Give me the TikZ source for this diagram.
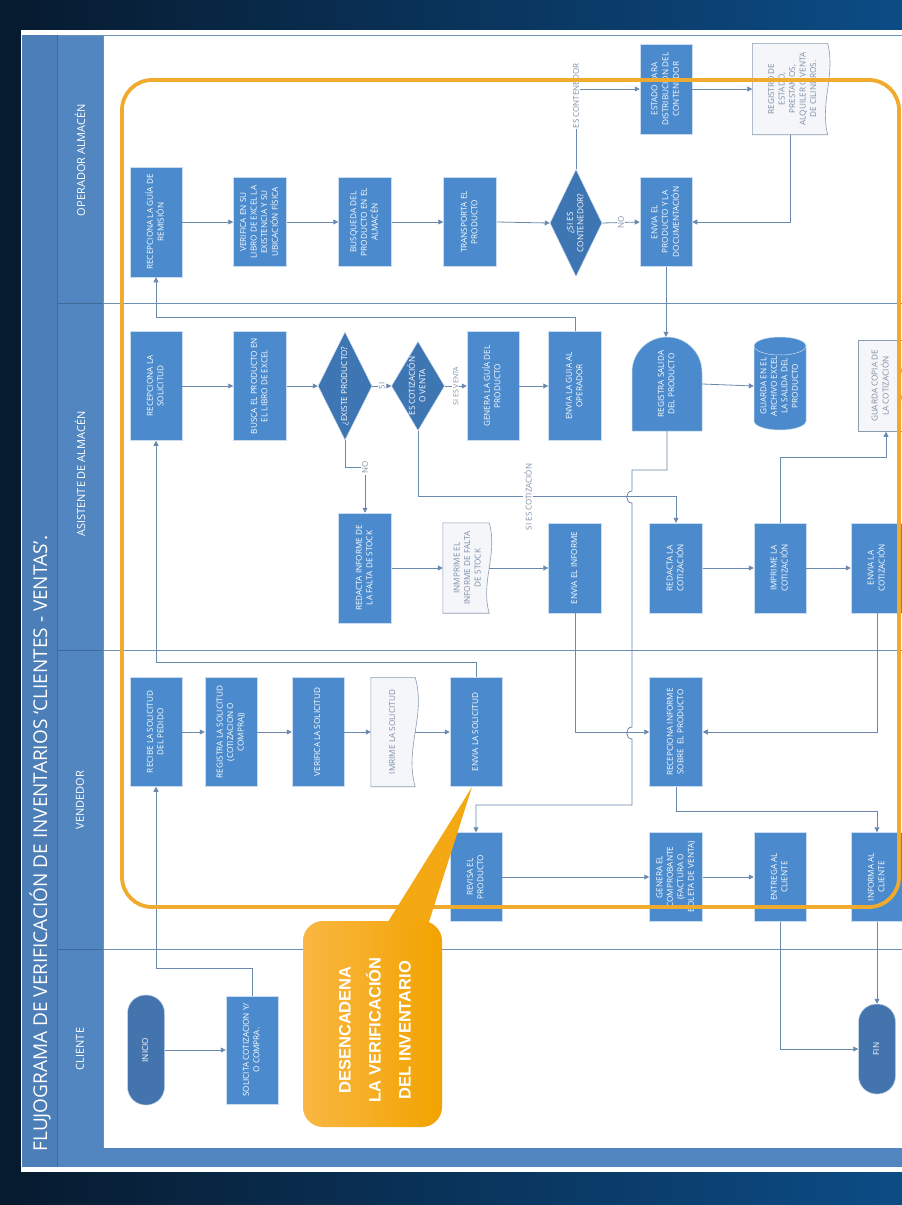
\documentclass[tikz,border=0pt]{standalone}
\usepackage{graphicx}
\usepackage{fontspec}
\setmainfont{Open Sans}
\newfontfamily\calloutfont{Liberation Sans}
\usetikzlibrary{arrows.meta,shapes.geometric,calc}

\definecolor{bgdark}{HTML}{071A2E}
\definecolor{bgblue}{HTML}{0C4C86}
\definecolor{stripblue}{HTML}{4C7EB7}
\definecolor{headblue}{HTML}{5186C0}
\definecolor{headline}{HTML}{3F6A9A}
\definecolor{laneline}{HTML}{6E8FB6}
\definecolor{boxblue}{HTML}{4B8ACD}
\definecolor{decblue}{HTML}{3E75B3}
\definecolor{termblue}{HTML}{4474AE}
\definecolor{flowline}{HTML}{6B89AE}
\definecolor{docfill}{HTML}{F4F6F9}
\definecolor{docdraw}{HTML}{8C9CB1}
\definecolor{doctext}{HTML}{7D8EA6}
\definecolor{frameorange}{HTML}{F0AA2E}
\definecolor{callA}{HTML}{F9B743}
\definecolor{callB}{HTML}{F2A300}

% rotated, centred multi-line text
\newcommand\vtext[1]{\rotatebox{90}{\begin{tabular}{@{}c@{}}#1\end{tabular}}}

\tikzset{
  boxtext/.style={text=white, font=\fontsize{8.2}{10.5}\selectfont},
  proc/.style={rectangle, fill=boxblue, draw=white!70!boxblue, line width=0.5pt, inner sep=0pt, boxtext},
  dec/.style={diamond, fill=decblue, draw=white!70!decblue, line width=0.5pt, inner sep=0pt},
  term/.style={rectangle, rounded corners=18pt, fill=termblue, draw=white!70!termblue, line width=0.5pt, inner sep=0pt, boxtext},
  plain/.style={rectangle, inner sep=0pt},
  doctxt/.style={text=doctext, font=\fontsize{8.2}{10.5}\selectfont},
  docline/.style={fill=docfill, draw=docdraw, line width=0.6pt},
  flow/.style={draw=flowline, line width=0.8pt, -{Triangle[length=5pt,width=5pt]}},
  lbl/.style={fill=white, inner sep=1pt, text=doctext, font=\fontsize{8}{9}\selectfont, rotate=90},
  lanetitle/.style={text=white, font=\fontsize{11}{13}\selectfont, rotate=90},
}

% document symbol with a wavy right edge around node #1
\newcommand\docoutline[2]{%
  \path[docline] (#1.north west) -- (#1.north east)
    .. controls ($(#1.north east)!0.35!(#1.south east)+(#2,0)$) and ($(#1.north east)!0.65!(#1.south east)+(-#2,0)$) .. (#1.south east)
    -- (#1.south west) -- cycle;}

\begin{document}
\begin{tikzpicture}[x=1pt,y=-1pt]
\useasboundingbox (0,0) rectangle (902,1205);
\clip (0,0) rectangle (902,1205);

% backdrop and sheet
\shade[left color=bgdark, right color=bgblue] (0,0) rectangle (902,1205);
\fill[white] (21,30) rectangle (910,1172);
\fill[stripblue] (22,35) rectangle (57,1167);
\fill[headblue] (57,35) rectangle (103,1148);
\fill[headblue] (57,1148) rectangle (910,1167);

% lane frame
\draw[laneline, line width=0.8pt] (57,35) -- (910,35);
\draw[laneline, line width=0.8pt] (103,35) -- (103,1148);
\foreach \yy in {303,650,949} {
  \draw[laneline, line width=0.8pt] (103,\yy) -- (910,\yy);
  \draw[headline, line width=0.8pt] (57,\yy) -- (103,\yy);
}
\draw[headline, line width=0.6pt] (57,35) -- (57,1167);

% titles
\node[rotate=90, anchor=west, text=white, font=\fontsize{19}{21}\selectfont] (title) at (40,1155)
  {FLUJOGRAMA DE VERIFICACIÓN DE INVENTARIOS ‘CLIENTES - VENTAS’.};
\node[lanetitle] (laneop) at (80,160) {OPERADOR ALMACÉN};
\node[lanetitle] (laneas) at (80,474) {ASISTENTE DE ALMACÉN};
\node[lanetitle] (laneve) at (80,800) {VENDEDOR};
\node[lanetitle] (lanecl) at (80,1049) {CLIENTE};

% ---------- Operador almacen ----------
\node[proc, minimum width=52, minimum height=110] (guia) at (156,222) {\vtext{RECEPCIONA LA GUÍA DE\\REMISIÓN}};
\node[proc, minimum width=53, minimum height=89] (verif) at (260,222) {\vtext{VERIFICA EN SU\\LIBRO DE EXCEL LA\\EXISTENCIA Y SU\\UBICACIÓN FÍSICA}};
\node[proc, minimum width=53, minimum height=89] (busq) at (365,222) {\vtext{BUSQUEDA DEL\\PRODUCTO EN EL\\ALMACÉN}};
\node[proc, minimum width=53, minimum height=89] (transp) at (470,222) {\vtext{TRANSPORTA EL\\PRODUCTO}};
\node[dec, minimum width=52, minimum height=107] (dcont) at (576,223) {};
\node[boxtext] (dcont-t) at (dcont) {\vtext{¿SI ES\\CONTENEDOR?}};
\node[proc, minimum width=52, minimum height=89] (envprod) at (666,222) {\vtext{ENVIA EL\\PRODUCTO Y LA\\DOCUMENTACIÓN}};
\node[proc, minimum width=52, minimum height=90] (estado) at (666,89) {\vtext{ESTADO PARA\\DISTRIBUCIÓN DEL\\CONTENEDOR}};
\node[plain, minimum width=75, minimum height=91] (reg) at (790,89) {};
\docoutline{reg}{8}
\node[doctxt] (reg-t) at (793,89) {\vtext{REGISTRO DE\\ESTADO,\\PRESTAMOS,\\ALQUILER O VENTA\\DE CILINDROS.}};

% ---------- Asistente de almacen ----------
\node[proc, minimum width=52, minimum height=109] (recsol) at (156,386) {\vtext{RECEPCIONA LA\\SOLICITUD}};
\node[proc, minimum width=53, minimum height=109] (busca) at (260,386) {\vtext{BUSCA EL PRODUCTO EN\\EL LIBRO DE EXCEL}};
\node[dec, minimum width=54, minimum height=108] (dexiste) at (345,386) {};
\node[boxtext] (dexiste-t) at (dexiste) {\vtext{¿EXISTE PRODUCTO?}};
\node[dec, minimum width=53, minimum height=89] (dcotiz) at (418,386) {};
\node[boxtext] (dcotiz-t) at (dcotiz) {\vtext{ES COTIZACIÓN\\O VENTA}};
\node[proc, minimum width=52, minimum height=109] (genguia) at (493,386) {\vtext{GENERA LA GUÍA DEL\\PRODUCTO}};
\node[proc, minimum width=53, minimum height=109] (envguia) at (575,386) {\vtext{ENVIA LA GUIA AL\\OPERADOR}};

% delay symbol
\fill[boxblue, draw=white!70!boxblue, line width=0.5pt] (632,431) -- (632,372)
  .. controls (632,352.7) and (647.7,337) .. (667,337)
  .. controls (686.3,337) and (702,352.7) .. (702,372) -- (702,431) -- cycle;
\node[plain, boxtext, minimum width=70, minimum height=94] (registra) at (667,384) {\vtext{REGISTRA SALIDA\\DEL PRODUCTO}};

% stored data cylinder
\fill[boxblue, draw=white!70!boxblue, line width=0.5pt] (754,346) -- (754,421)
  .. controls (754,426) and (765.6,430) .. (780,430)
  .. controls (794.4,430) and (806,426) .. (806,421) -- (806,346)
  .. controls (806,341) and (794.4,337) .. (780,337)
  .. controls (765.6,337) and (754,341) .. (754,346) -- cycle;
\draw[white!70!boxblue, line width=0.5pt] (754,346) .. controls (754,351) and (765.6,355) .. (780,355)
  .. controls (794.4,355) and (806,351) .. (806,346);
\node[plain, boxtext, minimum width=52, minimum height=93] (guarda) at (780,386) {\vtext{GUARDA EN EL\\ARCHIVO EXCEL\\LA SALIDA DEL\\PRODUCTO}};

\node[rectangle, docline, doctxt, inner sep=0pt, minimum width=56, minimum height=91] (copia) at (886,386) {};
\node[doctxt] (copia-t) at (881,386) {\vtext{GUARDA COPIA DE\\LA COTIZACIÓN}};
\draw[docline] (922,384) ellipse [x radius=22pt, y radius=38pt];

\node[proc, minimum width=53, minimum height=110] (redinf) at (365,568) {\vtext{REDACTA INFORME DE\\LA FALTA DE STOCK}};
\node[plain, minimum width=46, minimum height=90] (impinf) at (466,568) {};
\docoutline{impinf}{9}
\node[doctxt] (impinf-t) at (468,568) {\vtext{INMPRIME EL\\INFORME DE FALTA\\DE STOCK}};
\node[proc, minimum width=53, minimum height=90] (envinf) at (575,568) {\vtext{ENVIA EL INFORME}};
\node[proc, minimum width=53, minimum height=90] (redcot) at (676,568) {\vtext{REDACTA LA\\COTIZACIÓN}};
\node[proc, minimum width=52, minimum height=90] (impcot) at (780,568) {\vtext{IMPRIME LA\\COTIZACIÓN}};
\node[proc, minimum width=52, minimum height=90] (envcot) at (877,568) {\vtext{ENVIA LA\\COTIZACIÓN}};

% ---------- Vendedor ----------
\node[proc, minimum width=52, minimum height=109] (recibe) at (156,732) {\vtext{RECIBE LA SOLICITUD\\DEL PEDIDO}};
\node[proc, minimum width=52, minimum height=109] (regsol) at (231,732) {\vtext{REGISTRA LA SOLICITUD\\(COTIZACION O\\COMPRA))}};
\node[proc, minimum width=52, minimum height=109] (versol) at (318,732) {\vtext{VERIFICA LA SOLICITUD}};
\node[plain, minimum width=44, minimum height=109] (impsol) at (393,732) {};
\docoutline{impsol}{11}
\node[doctxt] (impsol-t) at (393,732) {\vtext{IMRIME LA SOLICITUD}};
\node[proc, minimum width=52, minimum height=109] (envsol) at (476,732) {\vtext{ENVIA LA SOLICITUD}};
\node[proc, minimum width=53, minimum height=109] (recinf) at (676,732) {\vtext{RECEPCIONA INFORME\\SOBRE \ EL PRODUCTO}};
\node[proc, minimum width=52, minimum height=89] (revisa) at (476,877) {\vtext{REVISA EL\\PRODUCTO}};
\node[proc, minimum width=53, minimum height=89] (genera) at (676,877) {\vtext{GENERA EL\\COMPROBANTE\\(FACTURA O\\BOLETA DE VENTA)}};
\node[proc, minimum width=52, minimum height=89] (entrega) at (780,877) {\vtext{ENTREGA AL\\CLIENTE}};
\node[proc, minimum width=52, minimum height=89] (informa) at (877,877) {\vtext{INFORMA AL\\CLIENTE}};

% ---------- Cliente ----------
\node[term, minimum width=37, minimum height=110] (inicio) at (146,1050) {\vtext{INICIO}};
\node[proc, minimum width=52, minimum height=108] (solicita) at (252,1050) {\vtext{SOLICITA COTIZACION Y/\\O COMPRA.}};
\node[term, minimum width=37, minimum height=90] (fin) at (877,1049) {\vtext{FIN}};

% ---------- connectors ----------
\draw[flow] (guia.east) -- (verif.west);
\draw[flow] (verif.east) -- (busq.west);
\draw[flow] (busq.east) -- (transp.west);
\draw[flow] (transp.east) -- (dcont.west);
\draw[flow] (dcont.east) -- node[lbl] (lblno1) {NO} (envprod.west);
\draw[flow] (dcont.north) |- (estado.west);
\node[lbl] (lblcont) at ($(dcont.north |- estado.west)+(0,7)$) {ES CONTENEDOR};
\draw[flow] (estado.east) -- (reg.west);
\draw[flow] (reg.south) |- (envprod.east);
\draw[flow] (envprod.south) -- (envprod.south |- registra.north);

\draw[flow] (envguia.north) -- ++(0,-14) -| (guia.south);
\draw[flow] (recsol.east) -- (busca.west);
\draw[flow] (busca.east) -- (dexiste.west);
\draw[flow] (dexiste.east) -- node[lbl] (lblsi) {SI} (dcotiz.west);
\draw[flow] (dcotiz.east) -- node[lbl, font=\fontsize{7}{8}\selectfont] (lblventa) {SI ES VENTA} (genguia.west);
\draw[flow] (genguia.east) -- (envguia.west);
\draw[flow] (registra.east) -- (guarda.west);

\coordinate (nocorner) at ($(redinf.north)+(0,-45)$);
\draw[flow] (dexiste.south) |- (nocorner) -- (redinf.north);
\node[lbl] (lblno2) at (nocorner) {NO};

\draw[flow] (dcotiz.south) -- ++(0,66) -| (redcot.north);
\node[lbl] (lblcot) at (528,497) {SI ES COTIZACIÓN};

\draw[flow] (redinf.east) -- (impinf.west);
\draw[flow] (impinf.east) -- (envinf.west);
\draw[flow] (redcot.east) -- (impcot.west);
\draw[flow] (impcot.east) -- (envcot.west);
\draw[flow] (impcot.north) -- ++(0,-65) -| (copia.south);
\draw[flow] (envinf.south) |- (recinf.west);
\draw[flow] (envcot.south) |- (recinf.east);

% exit of the product, hopping over two crossings
\coordinate (hopstart) at (632,470);
\draw[flow] (registra.south) |- (hopstart) -- (632,491)
  .. controls (625,491) and (625,503) .. (632,503) -- (632,727)
  .. controls (625,727) and (625,739) .. (632,739) -- (632,805) -| (revisa.north);

\draw[flow] (envsol.north) -- ++(0,-15) -| (recsol.south);
\draw[flow] (recibe.east) -- (regsol.west);
\draw[flow] (regsol.east) -- (versol.west);
\draw[flow] (versol.east) -- (impsol.west);
\draw[flow] (impsol.east) -- (envsol.west);
\draw[flow] (recinf.south) -- ++(0,25) -| (informa.north);
\draw[flow] (revisa.east) -- (genera.west);
\draw[flow] (genera.east) -- (entrega.west);
\draw[flow] (entrega.south) |- (fin.west);
\draw[flow] (informa.south) -- (fin.north);
\draw[flow] (inicio.east) -- (solicita.west);
\draw[flow] (solicita.north) -- ++(0,-27) -| (recibe.south);

% scope of the inventory check
\draw[frameorange, line width=3.8pt, rounded corners=30pt] (122,80) rectangle (899,907);

% callout
\fill[callB!70!callA] (386,925) -- (472,787) -- (428,925) -- cycle;
\shade[left color=callA, right color=callB, rounded corners=20pt] (303,921) rectangle (442,1127);
\node[rotate=90, align=center, text=white, font=\calloutfont\bfseries\fontsize{16.5}{30}\selectfont] (callout) at (375,1030)
  {DESENCADENA\\LA VERIFICACIÓN\\DEL INVENTARIO};
\end{tikzpicture}
\end{document}
